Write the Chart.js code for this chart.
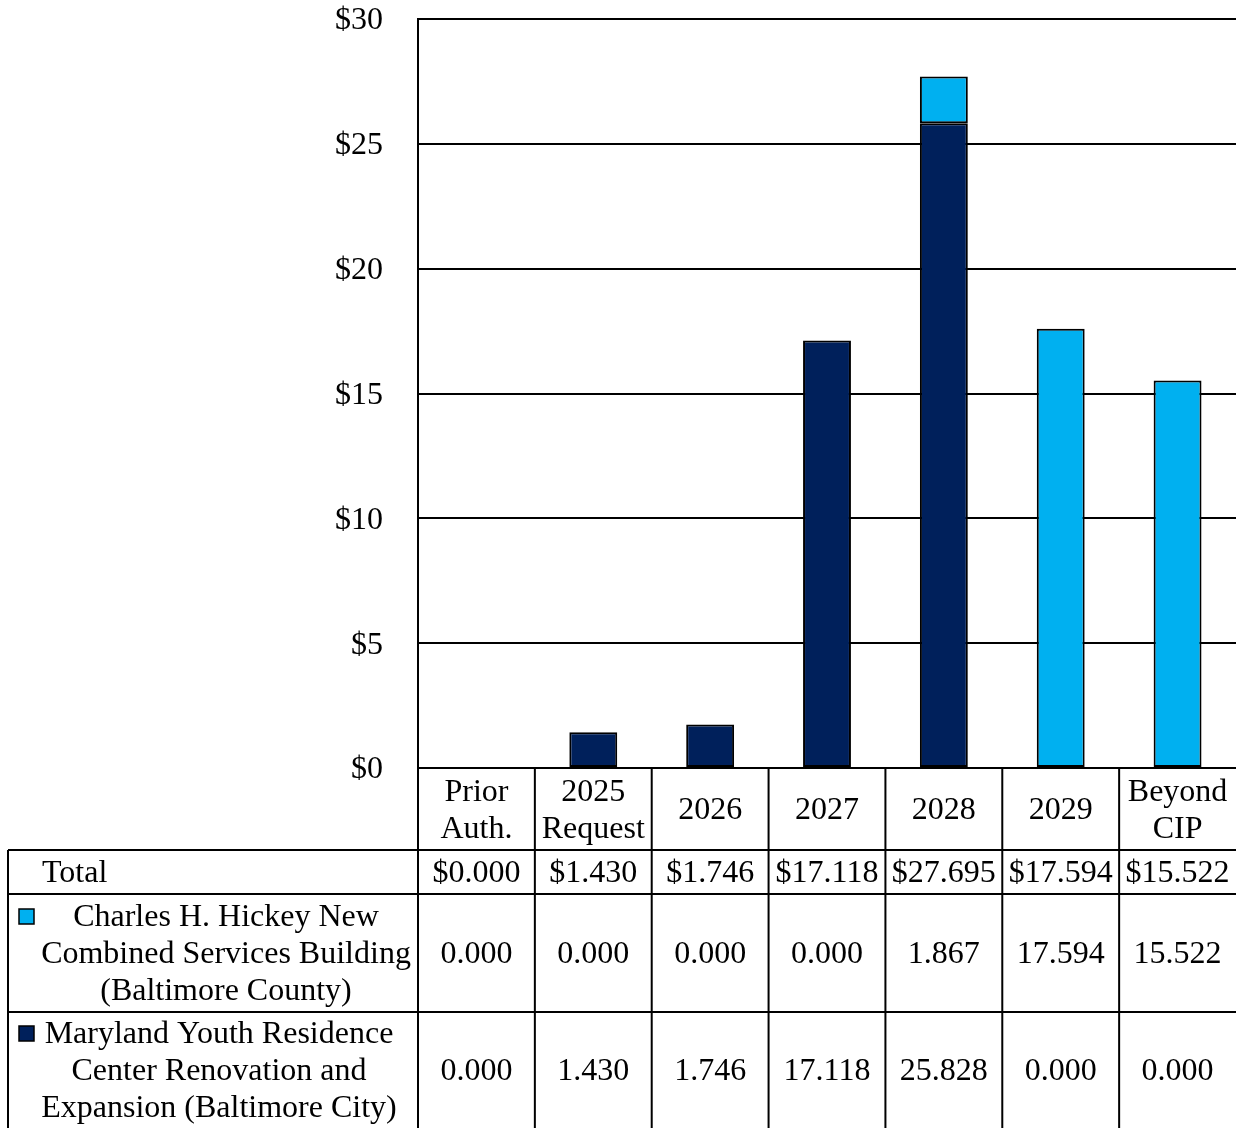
<!DOCTYPE html>
<html>
<head>
<meta charset="utf-8">
<script src="https://cdn.jsdelivr.net/npm/chart.js@4/dist/chart.umd.min.js"></script>
<style>
  html, body { margin: 0; padding: 0; background: #fff; }
  #chart { display: block; }
</style>
</head>
<body>
<canvas id="chart" width="1236" height="1128"></canvas>
<script>
// Data
const categories = [["Prior", "Auth."], ["2025", "Request"], ["2026"], ["2027"], ["2028"], ["2029"], ["Beyond", "CIP"]]
const hickeyValues = [0.000, 0.000, 0.000, 0.000, 1.867, 17.594, 15.522]
const youthValues = [0.000, 1.430, 1.746, 17.118, 25.828, 0.000, 0.000]
const hickeyLabel = ["Charles H. Hickey New", "Combined Services Building", "(Baltimore County)"]
const youthLabel = ["Maryland Youth Residence", "Center Renovation and", "Expansion (Baltimore City)"]
const yMax = 30
const yStep = 5

const FONT = "Liberation Serif, Times New Roman, serif"
const FONT_SIZE = 32
const NAVY = "#00205B"
const SKY = "#00B0F0"

// Table drawn under the plot, columns follow the x scale
const tablePlugin = {
  id: "tablePlugin",
  afterDraw(chart) {
    const ctx = chart.ctx
    const x = chart.scales.x
    const area = chart.chartArea
    const n = categories.length
    const colW = (area.right - area.left) / n
    const top = area.bottom
    const headBottom = top + 82
    const totalBottom = headBottom + 44
    const row1Bottom = totalBottom + 118
    const row2Bottom = 1128
    const leftEdge = 8

    ctx.save()
    ctx.strokeStyle = "#000"
    ctx.lineWidth = 2
    ctx.beginPath()
    // horizontal lines
    ctx.moveTo(leftEdge, headBottom); ctx.lineTo(area.right, headBottom)
    ctx.moveTo(leftEdge, totalBottom); ctx.lineTo(area.right, totalBottom)
    ctx.moveTo(leftEdge, row1Bottom); ctx.lineTo(area.right, row1Bottom)
    // left border
    ctx.moveTo(leftEdge, headBottom); ctx.lineTo(leftEdge, row2Bottom)
    // column separators
    for (let i = 0; i < n; i++) {
      const cx = area.left + i * colW
      ctx.moveTo(cx, top); ctx.lineTo(cx, row2Bottom)
    }
    ctx.stroke()

    ctx.fillStyle = "#000"
    ctx.font = FONT_SIZE + "px " + FONT
    ctx.textBaseline = "middle"
    ctx.textAlign = "center"

    const lh = 37
    categories.forEach((lines, i) => {
      const cx = x.getPixelForValue(i)
      const mid = (top + headBottom) / 2 + 2
      lines.forEach((t, j) => {
        ctx.fillText(t, cx, mid + (j - (lines.length - 1) / 2) * lh)
      })
      const total = hickeyValues[i] + youthValues[i]
      ctx.fillText("$" + total.toFixed(3), cx, (headBottom + totalBottom) / 2 + 2)
      ctx.fillText(hickeyValues[i].toFixed(3), cx, (totalBottom + row1Bottom) / 2 + 2)
      ctx.fillText(youthValues[i].toFixed(3), cx, (row1Bottom + row2Bottom) / 2 + 2)
    })

    // row headers
    ctx.textAlign = "left"
    ctx.fillText("Total", 42, (headBottom + totalBottom) / 2 + 2)
    ctx.textAlign = "center"
    const r1mid = (totalBottom + row1Bottom) / 2 + 2
    hickeyLabel.forEach((t, j) => ctx.fillText(t, 226, r1mid + (j - 1) * lh))
    const r2mid = (row1Bottom + row2Bottom) / 2 + 2
    youthLabel.forEach((t, j) => ctx.fillText(t, 219, r2mid + (j - 1) * lh))

    // legend keys
    ctx.lineWidth = 1.5
    ctx.fillStyle = SKY
    ctx.fillRect(19, r1mid - 46, 15, 15)
    ctx.strokeRect(19, r1mid - 46, 15, 15)
    ctx.fillStyle = NAVY
    ctx.fillRect(19, r2mid - 46, 15, 15)
    ctx.strokeRect(19, r2mid - 46, 15, 15)
    ctx.restore()
  }
}

const zeroless = (c) => (c.raw === 0 ? 0 : 2)

new Chart(document.getElementById("chart"), {
  type: "bar",
  data: {
    labels: categories.map((c) => c.join(" ")),
    datasets: [
      {
        label: youthLabel.join(" "),
        data: youthValues,
        backgroundColor: NAVY,
        borderColor: "#000",
        borderWidth: zeroless,
        borderSkipped: false,
      },
      {
        label: hickeyLabel.join(" "),
        data: hickeyValues,
        backgroundColor: SKY,
        borderColor: "#000",
        borderWidth: zeroless,
        borderSkipped: false,
      },
    ],
  },
  options: {
    responsive: false,
    animation: false,
    devicePixelRatio: 1,
    layout: { padding: { top: 19, right: 0, bottom: 360, left: 0 } },
    datasets: { bar: { categoryPercentage: 1, barPercentage: 0.41 } },
    scales: {
      x: { stacked: true, display: false, offset: true },
      y: {
        stacked: true,
        min: 0,
        max: yMax,
        afterFit: (s) => {
          s.width = 418
          s.paddingTop = 0
          s.paddingBottom = 0
        },
        border: { display: true, color: "#000", width: 2 },
        grid: { color: "#000", lineWidth: 2, drawTicks: false },
        ticks: {
          stepSize: yStep,
          padding: 35,
          labelOffset: 2,
          color: "#000",
          font: { family: FONT, size: FONT_SIZE },
          callback: (v) => "$" + v,
        },
      },
    },
    plugins: {
      legend: { display: false },
      tooltip: { enabled: false },
    },
  },
  plugins: [tablePlugin],
})
</script>
</body>
</html>
